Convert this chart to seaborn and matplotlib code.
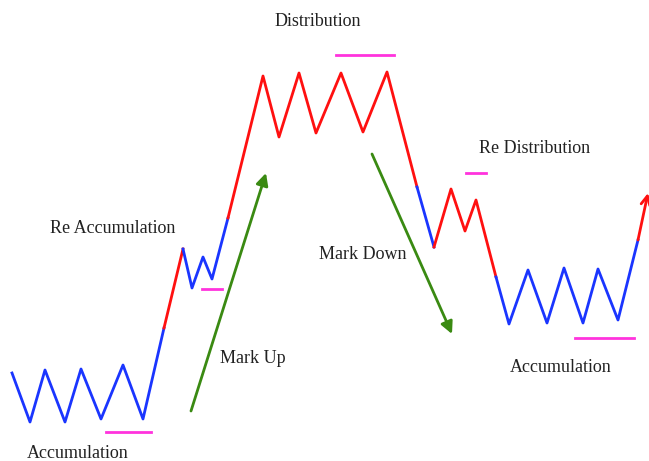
import matplotlib.pyplot as plt
import seaborn as sb

# price path vertices (pixel-like units, y grows downwards)
path_x = [12, 30, 45, 65, 81, 101, 123, 143, 164, 183, 192, 203, 212, 228,
          263, 279, 299, 316, 341, 363, 387, 417, 434, 451, 465, 476, 496,
          509, 528, 547, 564, 583, 598, 618, 638]
path_y = [373, 422, 370, 422, 369, 419, 365, 419, 328, 249, 288, 257, 279, 218,
          76, 137, 73, 133, 73, 132, 72, 187, 247, 189, 231, 200, 277,
          324, 270, 323, 268, 323, 269, 320, 240]
# (start index, end index, colour) of each coloured stretch
segments = [(0, 8, 'b'), (8, 9, 'r'), (9, 13, 'b'), (13, 21, 'r'),
            (21, 22, 'b'), (22, 26, 'r'), (26, 34, 'b')]
final_arrow = [(638, 240), (648, 193)]

# green trend arrows: (start, tip)
trend_arrows = [((191, 411), (266, 173)), ((372, 154), (452, 334))]

# magenta support / resistance marks: (x0, x1, y)
levels = [(106, 151, 432), (202, 222, 289), (336, 394, 55),
          (466, 486, 173), (575, 634, 338)]

labels = ['Distribution', 'Re Distribution', 'Re Accumulation', 'Mark Down',
          'Mark Up', 'Accumulation', 'Accumulation']
label_x = [318, 535, 113, 363, 253, 561, 78]
label_y = [22, 148, 228, 254, 358, 367, 453]

colors = {'b': '#1a35ff', 'r': '#ff1010'}
green = '#3a8a12'
magenta = '#ff33dd'

fig = plt.figure(figsize=(6.49, 4.61), dpi=100)
ax = fig.add_axes([0, 0, 1, 1])

for i0, i1, c in segments:
    sb.lineplot(x=path_x[i0:i1 + 1], y=path_y[i0:i1 + 1], sort=False,
                estimator=None, color=colors[c], lw=2.0, ax=ax)

ax.annotate('', xy=final_arrow[1], xytext=final_arrow[0],
            arrowprops=dict(arrowstyle='->', color=colors['r'], lw=2.0,
                            mutation_scale=16, shrinkA=0, shrinkB=0))

for start, tip in trend_arrows:
    ax.annotate('', xy=tip, xytext=start,
                arrowprops=dict(arrowstyle='-|>', color=green, lw=2.0,
                                mutation_scale=18, shrinkA=0, shrinkB=0))

for x0, x1, y in levels:
    ax.plot([x0, x1], [y, y], color=magenta, lw=2.0)

for t, x, y in zip(labels, label_x, label_y):
    ax.text(x, y, t, ha='center', va='center', fontsize=13,
            family='Liberation Serif', color='#222222')

ax.set_xlim(0, 649)
ax.set_ylim(461, 0)
ax.axis('off')

fig.savefig('out.png', dpi=100)
